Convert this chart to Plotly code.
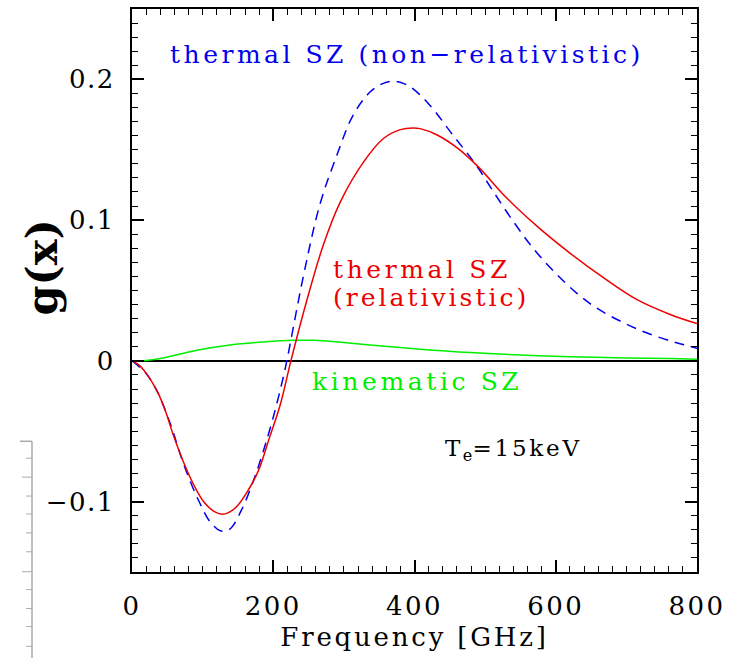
import plotly.graph_objects as go

# ---- data ----
freq_nonrel = [0, 20, 35, 47, 58, 68, 82, 96, 110, 125, 138, 155, 172, 186, 200, 214, 220,
               243, 266, 290, 313, 337, 355, 370, 385, 398, 422, 455, 486, 512, 540, 568,
               597, 630, 658, 696, 734, 771, 800]
g_nonrel = [0, -0.009, -0.021, -0.035, -0.050, -0.066, -0.085, -0.101, -0.114, -0.1207, -0.1197,
            -0.106, -0.085, -0.064, -0.040, -0.012, 0.002, 0.061, 0.111, 0.146, 0.1745, 0.191,
            0.197, 0.1987, 0.197, 0.1933, 0.1815, 0.160, 0.140, 0.120, 0.099, 0.080, 0.0637,
            0.048, 0.0375, 0.0271, 0.0189, 0.0129, 0.009]

freq_rel = [0, 10, 21, 35, 47, 58, 73, 89, 103, 118, 128, 136, 148, 162, 179, 195, 210, 225,
            247, 271, 295, 328, 356, 380, 398, 408, 432, 460, 490, 531, 575, 620, 668, 715,
            762, 800]
g_rel = [0, -0.003, -0.0094, -0.021, -0.035, -0.052, -0.072, -0.0896, -0.101, -0.1075, -0.109,
         -0.108, -0.1037, -0.094, -0.078, -0.054, -0.031, 0, 0.042, 0.0825, 0.113, 0.1414,
         0.158, 0.1643, 0.1655, 0.165, 0.1605, 0.1515, 0.138, 0.1155, 0.095, 0.0766, 0.0589,
         0.0435, 0.0330, 0.0265]

freq_kin = [0, 20, 44, 92, 139, 186, 230, 257, 300, 337, 408, 479, 550, 620, 700, 762, 800]
g_kin = [0, 0.0003, 0.002, 0.0076, 0.0113, 0.0134, 0.0146, 0.0146, 0.013, 0.0113, 0.0083,
         0.0059, 0.0042, 0.0030, 0.002, 0.0016, 0.0012]

x_range = [0, 800]
y_range = [-0.15, 0.25]
x_ticks = [0, 200, 400, 600, 800]
y_ticks = [-0.1, 0, 0.1, 0.2]
y_ticklabels = ["\u22120.1", "0", "0.1", "0.2"]

FONT = "DejaVu Serif"


def spaced(s, px):
    return '<span style="letter-spacing:%spx">%s</span>' % (px, s)


fig = go.Figure()
fig.add_trace(go.Scatter(x=x_range, y=[0, 0], mode="lines",
                         line=dict(color="black", width=2), hoverinfo="skip"))
fig.add_trace(go.Scatter(x=freq_kin, y=g_kin, mode="lines", line_shape="spline",
                         line=dict(color="#00ee00", width=1.5)))
fig.add_trace(go.Scatter(x=freq_nonrel, y=g_nonrel, mode="lines", line_shape="spline",
                         line=dict(color="#0000ee", width=1.5, dash="10px,7px")))
fig.add_trace(go.Scatter(x=freq_rel, y=g_rel, mode="lines", line_shape="spline",
                         line=dict(color="#ee0000", width=1.5)))

ann_font = dict(family=FONT, size=25)
fig.add_annotation(x=389, y=0.218, text=spaced("thermal SZ (non\u2212relativistic)", 3.5),
                   showarrow=False, font=dict(ann_font, color="#0000ee"),
                   xanchor="center", yanchor="middle")
fig.add_annotation(x=282, y=0.065, text=spaced("thermal SZ", 3.6), showarrow=False,
                   font=dict(ann_font, color="#ee0000"), xanchor="left", yanchor="middle")
fig.add_annotation(x=282, y=0.045, text=spaced("(relativistic)", 3.0), showarrow=False,
                   font=dict(ann_font, color="#ee0000"), xanchor="left", yanchor="middle")
fig.add_annotation(x=252, y=-0.015, text=spaced("kinematic SZ", 3.6), showarrow=False,
                   font=dict(ann_font, color="#00ee00"), xanchor="left", yanchor="middle")
fig.add_annotation(x=440, y=-0.063,
                   text=spaced("T", 2.5) + "<sub>e</sub>" + spaced("=15keV", 2.8),
                   showarrow=False, font=dict(family=FONT, size=23, color="black"),
                   xanchor="left", yanchor="middle")

# y-axis title
fig.add_annotation(xref="paper", yref="paper", x=-0.16, y=0.54, text="<b>g(x)</b>",
                   textangle=-90, showarrow=False, font=dict(family=FONT, size=43, color="black"),
                   xanchor="center", yanchor="middle")

# fragment of a neighbouring panel frame at bottom-left (light gray)
gray = "#aaaaaa"
pw = 565.0
ph = 565.6


def px(xp):
    return (xp - 132) / pw


def py(yp):
    return (572.3 - yp) / ph


fig.add_shape(type="line", xref="paper", yref="paper", x0=px(32), x1=px(32), y0=py(441), y1=py(660),
              line=dict(color=gray, width=1.5))
fig.add_shape(type="line", xref="paper", yref="paper", x0=px(20), x1=px(32), y0=py(441), y1=py(441),
              line=dict(color=gray, width=1.5))
for yp, long in [(458, False), (477, True), (496, False), (514, False), (533, False), (552, False),
                 (572, True), (590, False), (609, False), (627, False), (647, False)]:
    fig.add_shape(type="line", xref="paper", yref="paper", x0=px(22 if long else 26), x1=px(32),
                  y0=py(yp), y1=py(yp), line=dict(color=gray, width=1))

axis_common = dict(showgrid=False, zeroline=False, showline=True, linecolor="black", linewidth=2,
                   mirror="allticks", ticks="inside", ticklen=12, tickwidth=1.5, tickcolor="black",
                   tickfont=dict(family=FONT, size=26, color="black"))
fig.update_xaxes(range=x_range, tickvals=x_ticks, ticktext=[spaced(str(v), 2.5) for v in x_ticks],
                 minor=dict(dtick=20, ticks="inside", ticklen=6, tickwidth=1, tickcolor="black"),
                 title=dict(text=spaced("Frequency [GHz]", 2.8),
                            font=dict(family=FONT, size=26, color="black"), standoff=8),
                 ticklabelstandoff=10, **axis_common)
fig.update_yaxes(range=y_range, tickvals=y_ticks, ticktext=[spaced(t, 1.5) for t in y_ticklabels],
                 minor=dict(dtick=0.01, ticks="inside", ticklen=6, tickwidth=1, tickcolor="black"),
                 ticklabelstandoff=10, **axis_common)

fig.update_layout(width=737, height=658, margin=dict(l=132, r=40, t=7, b=86),
                  paper_bgcolor="white", plot_bgcolor="white", showlegend=False)

fig.write_html("out.html")
